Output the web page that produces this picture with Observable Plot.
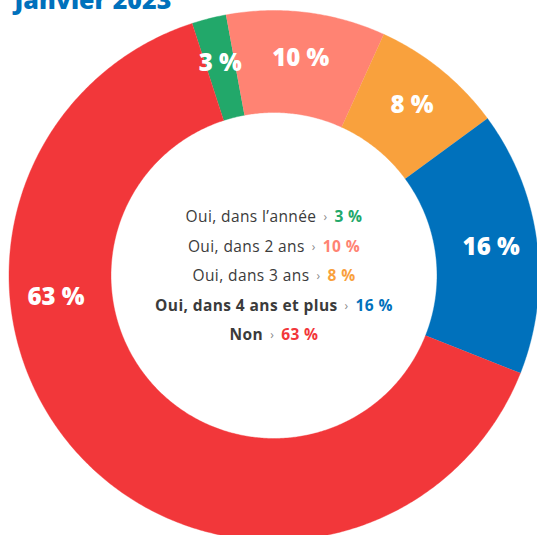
<!DOCTYPE html>
<html><head><meta charset="utf-8">
<script src="https://cdn.jsdelivr.net/npm/d3@7"></script>
<script src="https://cdn.jsdelivr.net/npm/@observablehq/plot@0.6"></script>
<style>
body{margin:0;background:#fff;overflow:hidden;font-family:"Open Sans",sans-serif}
#chart{width:537px;height:535px}
</style>
</head><body><div id="chart"></div>
<script>
const title = "Janvier 2023";
const categories = ["Oui, dans l’année", "Oui, dans 2 ans", "Oui, dans 3 ans", "Oui, dans 4 ans et plus", "Non"];
const shares = [2.1, 9.7, 8.1, 16.1, 64.0];
const valueLabels = ["3 %", "10 %", "8 %", "16 %", "63 %"];
const colors = ["#22A86A", "#FF8373", "#F9A13D", "#0071BC", "#F2373A"];
const boldLegend = [false, false, false, true, true];

// layout
const W = 537, H = 535, cx = 273.5, cy = 275, R = 265;
const innerRatio = 163 / 265, labelRatio = 219 / 265;
const startAngle = -18;           // degrees, clockwise from top
const redLabelAngle = 264.4;      // label of the large slice sits on the left
const lineStep = 29.5 / R;

const total = d3.sum(shares);
const arcs = [];
let acc = startAngle;
shares.forEach((v, i) => {
  const a0 = acc, a1 = acc + v / total * 360;
  acc = a1;
  arcs.push({cat: categories[i], a0, a1, i});
});

const toRad = d => d * Math.PI / 180;
const poly = [];
arcs.forEach(s => {
  const n = Math.max(8, Math.ceil((s.a1 - s.a0) * 2));
  for (let k = 0; k <= n; k++) {
    const a = toRad(s.a0 + (s.a1 - s.a0) * k / n);
    poly.push({cat: s.cat, x: Math.sin(a), y: Math.cos(a)});
  }
  for (let k = n; k >= 0; k--) {
    const a = toRad(s.a0 + (s.a1 - s.a0) * k / n);
    poly.push({cat: s.cat, x: innerRatio * Math.sin(a), y: innerRatio * Math.cos(a)});
  }
});

const sliceLabels = arcs.map(s => {
  const m = s.i === 4 ? redLabelAngle : (s.a0 + s.a1) / 2;
  return {text: valueLabels[s.i], x: labelRatio * Math.sin(toRad(m)), y: labelRatio * Math.cos(toRad(m))};
});

const legendRows = categories.map((c, i) => ({
  i, text: c + " › " + valueLabels[i], x: 0, y: -(i - 2) * lineStep - 1 / R
}));

const svg = Plot.plot({
  width: W, height: H, margin: 0,
  x: {domain: [-cx / R, (W - cx) / R], range: [0, W], axis: null},
  y: {domain: [-(H - cy) / R, cy / R], range: [H, 0], axis: null},
  color: {domain: categories, range: colors},
  style: {fontFamily: "Open Sans, sans-serif", background: "#fff"},
  marks: [
    Plot.line(poly, {x: "x", y: "y", z: "cat", fill: "cat", stroke: "cat", strokeWidth: 0.4, curve: "linear"}),
    Plot.text(sliceLabels, {x: "x", y: "y", text: "text", fill: "white", fontSize: 24, fontWeight: 800}),
    Plot.text(legendRows, {x: "x", y: "y", text: "text", fill: "#3b3b3b", fontSize: 15.5, textAnchor: "middle"}),
    Plot.text([title], {frameAnchor: "top-left", text: d => d, dx: 14, dy: 8, lineAnchor: "bottom", textAnchor: "start", fill: "#0071BC", fontSize: 25, fontWeight: 800})
  ]
});

const legendTexts = new Map(legendRows.map(r => [r.text, r.i]));
d3.select(svg).selectAll("text").each(function() {
  const i = legendTexts.get(this.textContent);
  if (i === undefined) return;
  const t = d3.select(this);
  t.text(null).style("letter-spacing", "0.4px");
  t.append("tspan").attr("font-weight", boldLegend[i] ? 700 : 500).attr("fill", "#3b3b3b").text(categories[i]);
  t.append("tspan").attr("dx", 7).attr("dy", -1).attr("font-size", 12).attr("fill", "#8a8a8a").text("›");
  t.append("tspan").attr("dx", 7).attr("dy", 1).attr("font-weight", 700).attr("fill", colors[i]).text(valueLabels[i]);
});

document.getElementById("chart").appendChild(svg);
</script>
</body></html>
